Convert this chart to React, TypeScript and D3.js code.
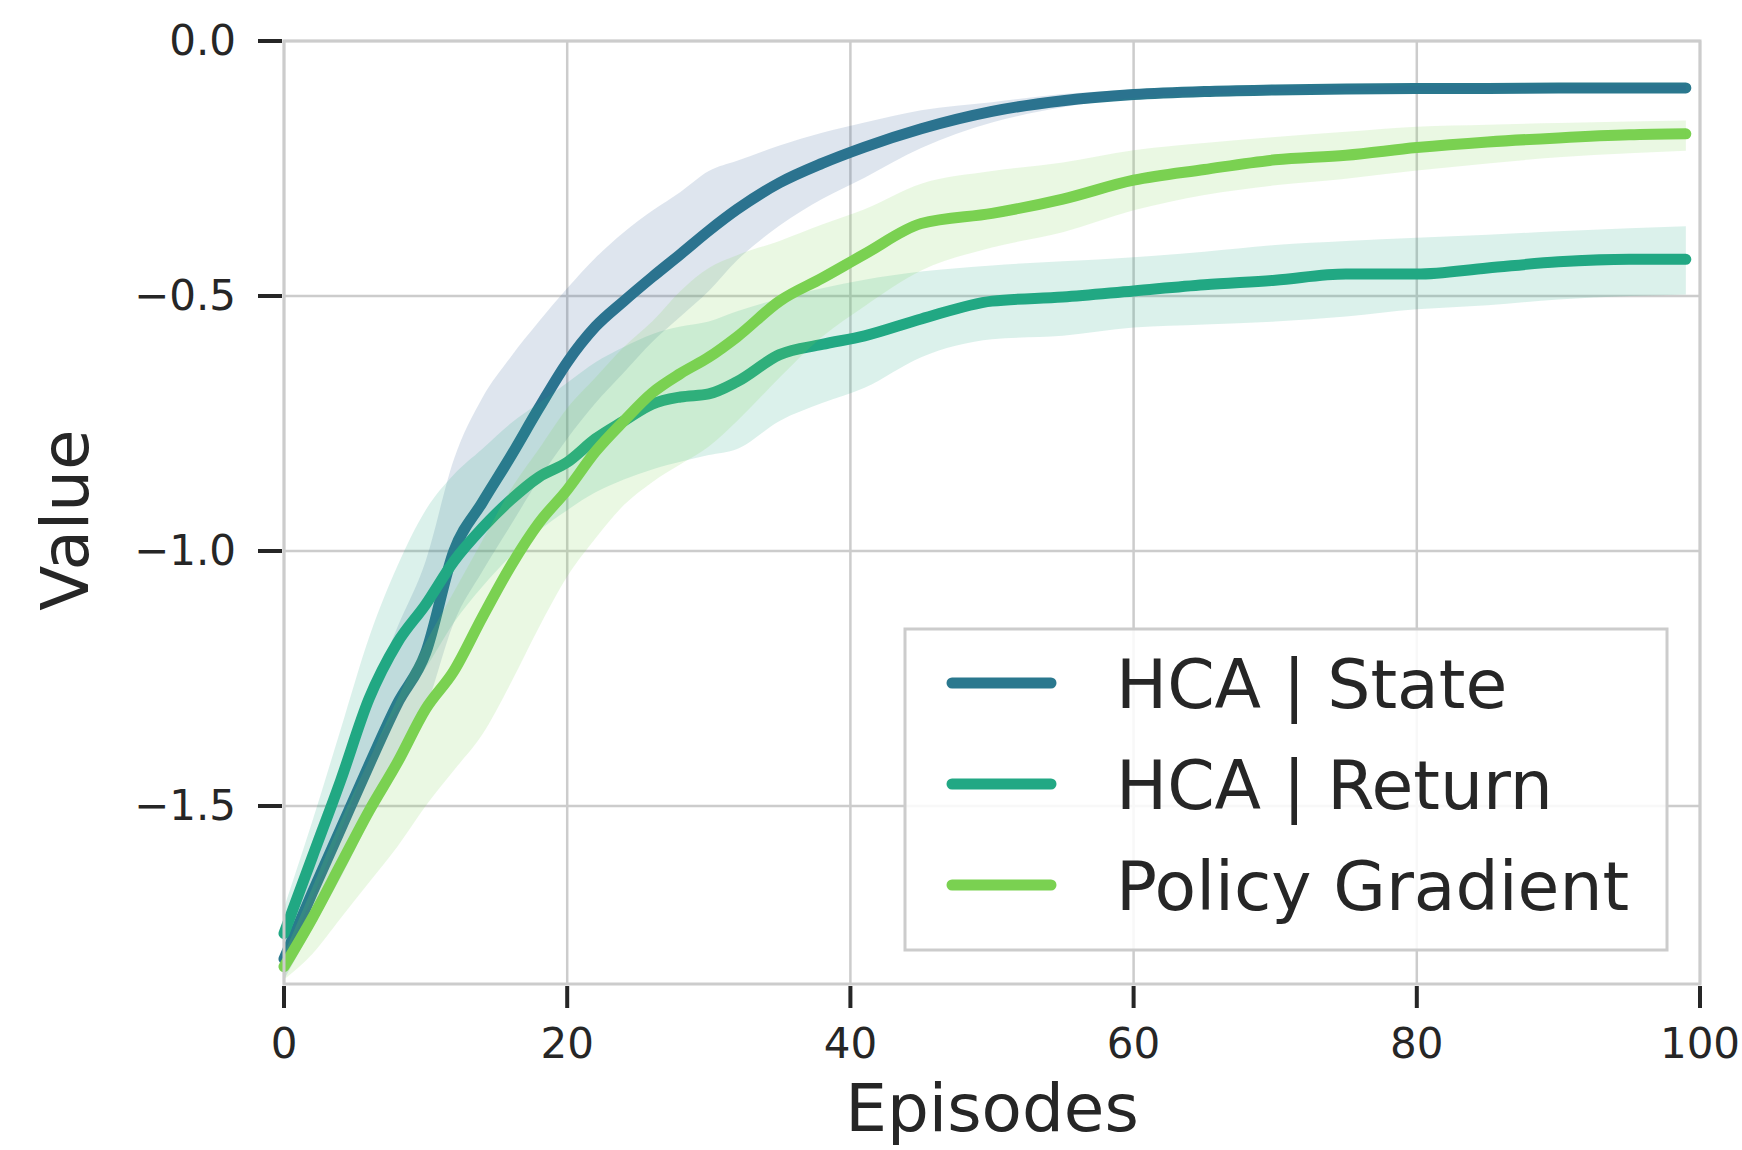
import React, { useEffect, useRef } from 'react';
import * as d3 from 'd3';

// Episodes at which values were sampled
const episodes = [0, 2, 4, 6, 8, 10, 12, 14, 16, 18, 20, 22, 24, 26, 28, 30, 32, 35, 38, 41, 45, 50, 55, 60, 65, 70, 75, 80, 85, 90, 95, 99];

// HCA | State
const stateMean = [-1.8, -1.67, -1.545, -1.42, -1.3, -1.2, -1.0, -0.905, -0.815, -0.72, -0.63, -0.56, -0.51, -0.463, -0.418, -0.372, -0.33, -0.278, -0.24, -0.208, -0.172, -0.138, -0.117, -0.105, -0.099, -0.096, -0.094, -0.093, -0.093, -0.092, -0.092, -0.092];
const stateUpper = [-1.76, -1.57, -1.43, -1.29, -1.15, -1.02, -0.82, -0.7, -0.62, -0.55, -0.485, -0.425, -0.375, -0.333, -0.296, -0.255, -0.235, -0.205, -0.18, -0.16, -0.136, -0.12, -0.104, -0.095, -0.091, -0.089, -0.088, -0.088, -0.087, -0.087, -0.087, -0.087];
const stateLower = [-1.84, -1.74, -1.64, -1.53, -1.42, -1.31, -1.14, -1.04, -0.95, -0.86, -0.78, -0.71, -0.65, -0.59, -0.54, -0.49, -0.43, -0.362, -0.31, -0.268, -0.21, -0.16, -0.13, -0.112, -0.104, -0.1, -0.098, -0.097, -0.097, -0.096, -0.096, -0.096];

// HCA | Return
const returnMean = [-1.75, -1.6, -1.45, -1.29, -1.18, -1.105, -1.02, -0.955, -0.9, -0.855, -0.826, -0.78, -0.745, -0.712, -0.698, -0.692, -0.668, -0.615, -0.595, -0.578, -0.545, -0.51, -0.502, -0.49, -0.478, -0.469, -0.457, -0.457, -0.445, -0.433, -0.428, -0.428];
const returnUpper = [-1.7, -1.53, -1.35, -1.17, -1.03, -0.92, -0.85, -0.8, -0.75, -0.71, -0.67, -0.63, -0.6, -0.575, -0.56, -0.55, -0.53, -0.505, -0.485, -0.468, -0.452, -0.44, -0.432, -0.424, -0.413, -0.4, -0.392, -0.386, -0.38, -0.373, -0.367, -0.363];
const returnLower = [-1.8, -1.68, -1.55, -1.41, -1.31, -1.23, -1.14, -1.07, -1.01, -0.96, -0.92, -0.885, -0.86, -0.84, -0.825, -0.812, -0.8, -0.745, -0.71, -0.68, -0.62, -0.585, -0.578, -0.562, -0.556, -0.55, -0.54, -0.526, -0.518, -0.507, -0.5, -0.497];

// Policy Gradient
const pgMean = [-1.815, -1.72, -1.615, -1.51, -1.415, -1.31, -1.235, -1.13, -1.03, -0.945, -0.88, -0.805, -0.745, -0.69, -0.652, -0.62, -0.58, -0.51, -0.465, -0.418, -0.358, -0.338, -0.31, -0.273, -0.252, -0.233, -0.224, -0.209, -0.198, -0.19, -0.184, -0.182];
const pgUpper = [-1.79, -1.66, -1.53, -1.41, -1.29, -1.18, -1.08, -0.98, -0.88, -0.8, -0.72, -0.66, -0.6, -0.55, -0.49, -0.445, -0.42, -0.392, -0.36, -0.33, -0.28, -0.255, -0.238, -0.214, -0.2, -0.188, -0.178, -0.168, -0.164, -0.161, -0.158, -0.156];
const pgLower = [-1.84, -1.79, -1.72, -1.65, -1.58, -1.5, -1.43, -1.36, -1.26, -1.15, -1.05, -0.975, -0.91, -0.865, -0.83, -0.795, -0.745, -0.66, -0.58, -0.52, -0.45, -0.405, -0.375, -0.332, -0.302, -0.283, -0.27, -0.254, -0.24, -0.228, -0.22, -0.215];

const seriesNames = ['HCA | State', 'HCA | Return', 'Policy Gradient'];
const seriesColors = ['#2a788e', '#22a884', '#7ad151'];
const xTicks = [0, 20, 40, 60, 80, 100];
const yTicks = [0, -0.5, -1.0, -1.5];

const App = () => {
  const chartRef = useRef<SVGSVGElement>(null);

  useEffect(() => {
    const width = 1742;
    const height = 1150;
    const left = 284;
    const right = 1700;
    const top = 41;
    const bottom = 984;
    const font = '"DejaVu Sans", sans-serif';
    const textColor = '#262626';
    const lightGray = '#cccccc';

    const svg = d3.select(chartRef.current);
    svg.selectAll('*').remove();
    svg.attr('width', width).attr('height', height).attr('viewBox', [0, 0, width, height]);

    svg.append('rect').attr('width', width).attr('height', height).attr('fill', '#fff');

    const x = d3.scaleLinear().domain([0, 100]).range([left, right]);
    const y = d3.scaleLinear().domain([-1.849, 0]).range([bottom, top]);

    // grid
    const grid = svg.append('g').attr('stroke', lightGray).attr('stroke-width', 2.5);
    grid
      .selectAll('line.v')
      .data(xTicks)
      .join('line')
      .attr('x1', (d) => x(d))
      .attr('x2', (d) => x(d))
      .attr('y1', top)
      .attr('y2', bottom);
    grid
      .selectAll('line.h')
      .data(yTicks)
      .join('line')
      .attr('class', 'h')
      .attr('x1', left)
      .attr('x2', right)
      .attr('y1', (d) => y(d))
      .attr('y2', (d) => y(d));

    const series = [
      { mean: stateMean, upper: stateUpper, lower: stateLower },
      { mean: returnMean, upper: returnUpper, lower: returnLower },
      { mean: pgMean, upper: pgUpper, lower: pgLower },
    ];

    const line = d3
      .line<number>()
      .x((_, i) => x(episodes[i]))
      .y((d) => y(d))
      .curve(d3.curveMonotoneX);

    const plot = svg.append('g');
    series.forEach((s, k) => {
      const area = d3
        .area<number>()
        .x((_, i) => x(episodes[i]))
        .y0((_, i) => y(s.lower[i]))
        .y1((_, i) => y(s.upper[i]))
        .curve(d3.curveMonotoneX);

      plot
        .append('path')
        .attr('d', line(s.mean))
        .attr('fill', 'none')
        .attr('stroke', seriesColors[k])
        .attr('stroke-width', 11)
        .attr('stroke-linecap', 'round')
        .attr('stroke-linejoin', 'round');

      plot
        .append('path')
        .attr('d', area(s.mean))
        .attr('fill', k === 0 ? '#2f5f93' : seriesColors[k])
        .attr('fill-opacity', 0.16)
        .attr('stroke', 'none');
    });

    // spines
    svg
      .append('rect')
      .attr('x', left)
      .attr('y', top)
      .attr('width', right - left)
      .attr('height', bottom - top)
      .attr('fill', 'none')
      .attr('stroke', lightGray)
      .attr('stroke-width', 3);

    // ticks
    const ticks = svg.append('g').attr('stroke', textColor).attr('stroke-width', 4);
    ticks
      .selectAll('line.x')
      .data(xTicks)
      .join('line')
      .attr('x1', (d) => x(d))
      .attr('x2', (d) => x(d))
      .attr('y1', bottom + 2)
      .attr('y2', bottom + 24);
    ticks
      .selectAll('line.y')
      .data(yTicks)
      .join('line')
      .attr('class', 'y')
      .attr('x1', left - 26)
      .attr('x2', left - 2)
      .attr('y1', (d) => y(d))
      .attr('y2', (d) => y(d));

    const fmt = d3.format('.1f');
    const labels = svg
      .append('g')
      .attr('font-family', font)
      .attr('font-size', 42)
      .attr('fill', textColor);
    labels
      .selectAll('text.x')
      .data(xTicks)
      .join('text')
      .attr('x', (d) => x(d))
      .attr('y', 1058)
      .attr('text-anchor', 'middle')
      .text((d) => d);
    labels
      .selectAll('text.y')
      .data(yTicks)
      .join('text')
      .attr('class', 'y')
      .attr('x', 236)
      .attr('y', (d) => y(d) + 14)
      .attr('text-anchor', 'end')
      .text((d) => fmt(d));

    // axis titles
    svg
      .append('text')
      .attr('x', (left + right) / 2)
      .attr('y', 1131)
      .attr('text-anchor', 'middle')
      .attr('font-family', font)
      .attr('font-size', 66)
      .attr('fill', textColor)
      .text('Episodes');
    svg
      .append('text')
      .attr('transform', 'translate(88,520) rotate(-90)')
      .attr('text-anchor', 'middle')
      .attr('font-family', font)
      .attr('font-size', 66)
      .attr('fill', textColor)
      .text('Value');

    // legend
    const legend = svg.append('g');
    legend
      .append('rect')
      .attr('x', 905)
      .attr('y', 629)
      .attr('width', 762)
      .attr('height', 321)
      .attr('fill', '#fff')
      .attr('fill-opacity', 0.85)
      .attr('stroke', lightGray)
      .attr('stroke-width', 3);
    const row = legend
      .selectAll('g.row')
      .data(seriesNames)
      .join('g')
      .attr('transform', (_, i) => `translate(0,${683 + i * 101})`);
    row
      .append('line')
      .attr('x1', 952)
      .attr('x2', 1051)
      .attr('stroke', (_, i) => seriesColors[i])
      .attr('stroke-width', 11)
      .attr('stroke-linecap', 'round');
    row
      .append('text')
      .attr('x', 1116)
      .attr('y', 25)
      .attr('font-family', font)
      .attr('font-size', 68)
      .attr('fill', textColor)
      .text((d) => d);
  }, []);

  return (
    <div style={{ position: 'absolute', left: 0, top: 0 }}>
      <svg ref={chartRef} style={{ display: 'block' }}></svg>
    </div>
  );
};

export default App;
